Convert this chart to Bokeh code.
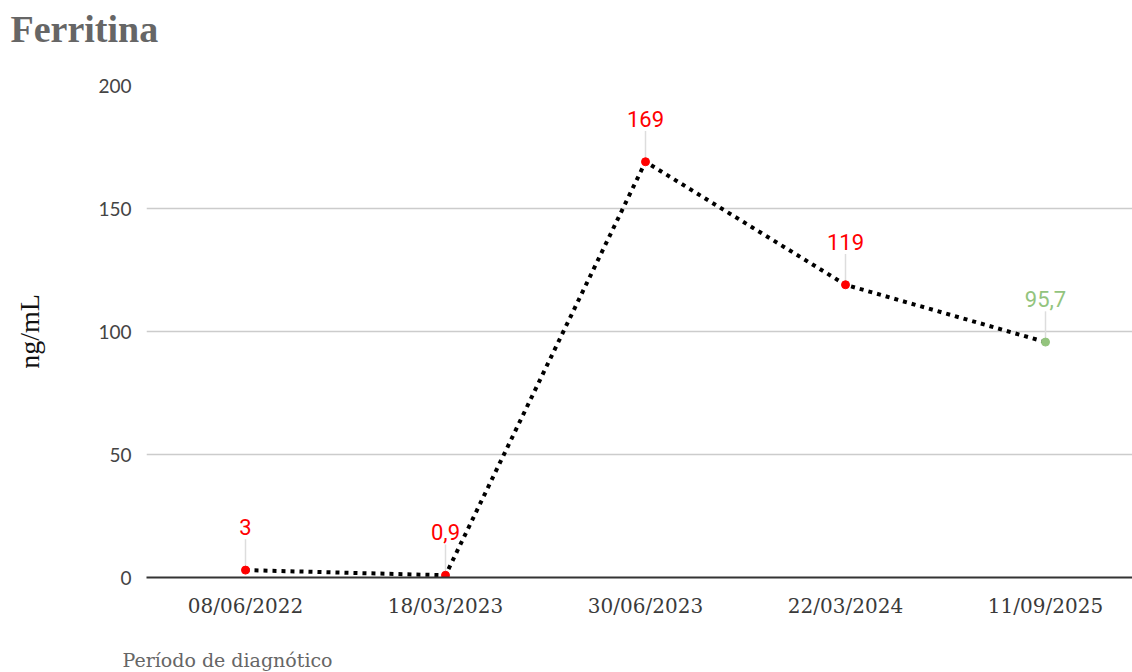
from bokeh.plotting import figure
from bokeh.models import Range1d, ColumnDataSource, LabelSet, FixedTicker, Title
from bokeh.core.properties import value
from bokeh.embed import file_html
from bokeh.resources import INLINE

dates = ["08/06/2022", "18/03/2023", "30/06/2023", "22/03/2024", "11/09/2025"]
ferritina = [3, 0.9, 169, 119, 95.7]
labels = ["3", "0,9", "169", "119", "95,7"]
colors = ["#ff0000", "#ff0000", "#ff0000", "#ff0000", "#93c47d"]

xs = list(range(len(dates)))

p = figure(width=1132, height=672, output_backend="svg", toolbar_location=None, title=None,
           x_range=Range1d(-0.495, 4.435), y_range=Range1d(0, 200),
           min_border_left=146, min_border_right=0, min_border_top=85, min_border_bottom=95)
p.outline_line_color = None
p.background_fill_color = "white"
p.border_fill_color = "white"

# spacer nearest the frame, then the title (outermost)
p.add_layout(Title(text=" ", text_font_size="1px", standoff=23), "above")
p.add_layout(Title(text="Ferritina", text_font="Liberation Serif", text_font_size="38px",
                   text_font_style="bold", text_color="#666666", align="left",
                   offset=-136, vertical_align="top", standoff=15), "above")

# axes
p.xaxis.ticker = FixedTicker(ticks=xs)
p.xaxis.major_label_overrides = {i: d for i, d in enumerate(dates)}
p.xaxis.major_tick_line_color = None
p.xaxis.minor_tick_line_color = None
p.xaxis.axis_line_color = "#333333"
p.xaxis.axis_line_width = 2
p.xaxis.major_label_text_font = "DejaVu Serif"
p.xaxis.major_label_text_font_size = "20px"
p.xaxis.major_label_text_color = "#3a3a3a"
p.xaxis.major_label_standoff = 10

p.yaxis.ticker = FixedTicker(ticks=[0, 50, 100, 150, 200])
p.yaxis.major_tick_line_color = None
p.yaxis.minor_tick_line_color = None
p.yaxis.axis_line_color = None
p.yaxis.major_label_text_font = "Lato"
p.yaxis.major_label_text_font_size = "19px"
p.yaxis.major_label_text_color = "#444444"
p.yaxis.major_label_standoff = 9
p.yaxis.axis_label = "ng/mL"
p.yaxis.axis_label_text_font = "Liberation Serif"
p.yaxis.axis_label_text_font_size = "28px"
p.yaxis.axis_label_text_font_style = "normal"
p.yaxis.axis_label_text_color = "#111111"
p.yaxis.axis_label_standoff = 50

p.xgrid.grid_line_color = None
p.ygrid.grid_line_color = "#cccccc"
p.ygrid.grid_line_width = 1.5

src = ColumnDataSource(dict(x=xs, y=ferritina, lab=labels, c=colors,
                            y0=[v + 1.2 for v in ferritina],
                            y1=[v + 12.5 for v in ferritina]))

p.segment(x0="x", y0="y0", x1="x", y1="y1", source=src, line_color="#dddddd", line_width=1.5)
p.line(x="x", y="y", source=src, line_color="black", line_width=4, line_dash="4 5")
p.scatter(x="x", y="y", source=src, size=8, fill_color="c", line_color="c")

ls = LabelSet(x="x", y="y", text="lab", source=src, y_offset=43, text_align="center",
              text_baseline="middle", text_color="c", text_font=value("Roboto"),
              text_font_size="22px")
p.add_layout(ls)

# spacer below the axis, then the x-axis caption
p.add_layout(Title(text=" ", text_font_size="1px", standoff=21), "below")
p.add_layout(Title(text="Período de diagnótico", text_font="DejaVu Serif",
                   text_font_size="19px", text_color="#666666", text_font_style="normal",
                   align="left", offset=-24, vertical_align="bottom", standoff=4), "below")

open("out.html", "w").write(file_html(p, INLINE))
